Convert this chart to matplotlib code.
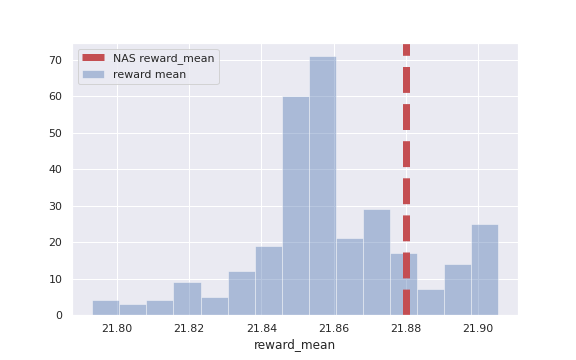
import numpy as np
import matplotlib
matplotlib.use("Agg")
import matplotlib.pyplot as plt
import seaborn as sns

sns.set()

# histogram
bin_start = 21.7932
bin_width = 0.00749
counts = [4, 3, 4, 9, 5, 12, 19, 60, 71, 21, 29, 17, 7, 14, 25]
nas_reward_mean = 21.88

edges = bin_start + bin_width * np.arange(len(counts) + 1)

fig, ax = plt.subplots(figsize=(8, 5), dpi=72)
fig.subplots_adjust(left=0.125, right=0.9, top=0.88, bottom=0.125)

ax.bar(edges[:-1], counts, width=bin_width, align='edge',
       color=sns.color_palette()[0], alpha=0.4, edgecolor='w',
       linewidth=1, label='reward mean')
ax.axvline(nas_reward_mean, color=sns.color_palette()[3], linestyle='--',
           linewidth=7, label='NAS reward_mean')

ax.set_xticks([21.80, 21.82, 21.84, 21.86, 21.88, 21.90])
ax.set_xticklabels(['21.80', '21.82', '21.84', '21.86', '21.88', '21.90'])
ax.set_xlabel('reward_mean')
ax.legend(loc='upper left')

fig.savefig('out.png', dpi=72)
